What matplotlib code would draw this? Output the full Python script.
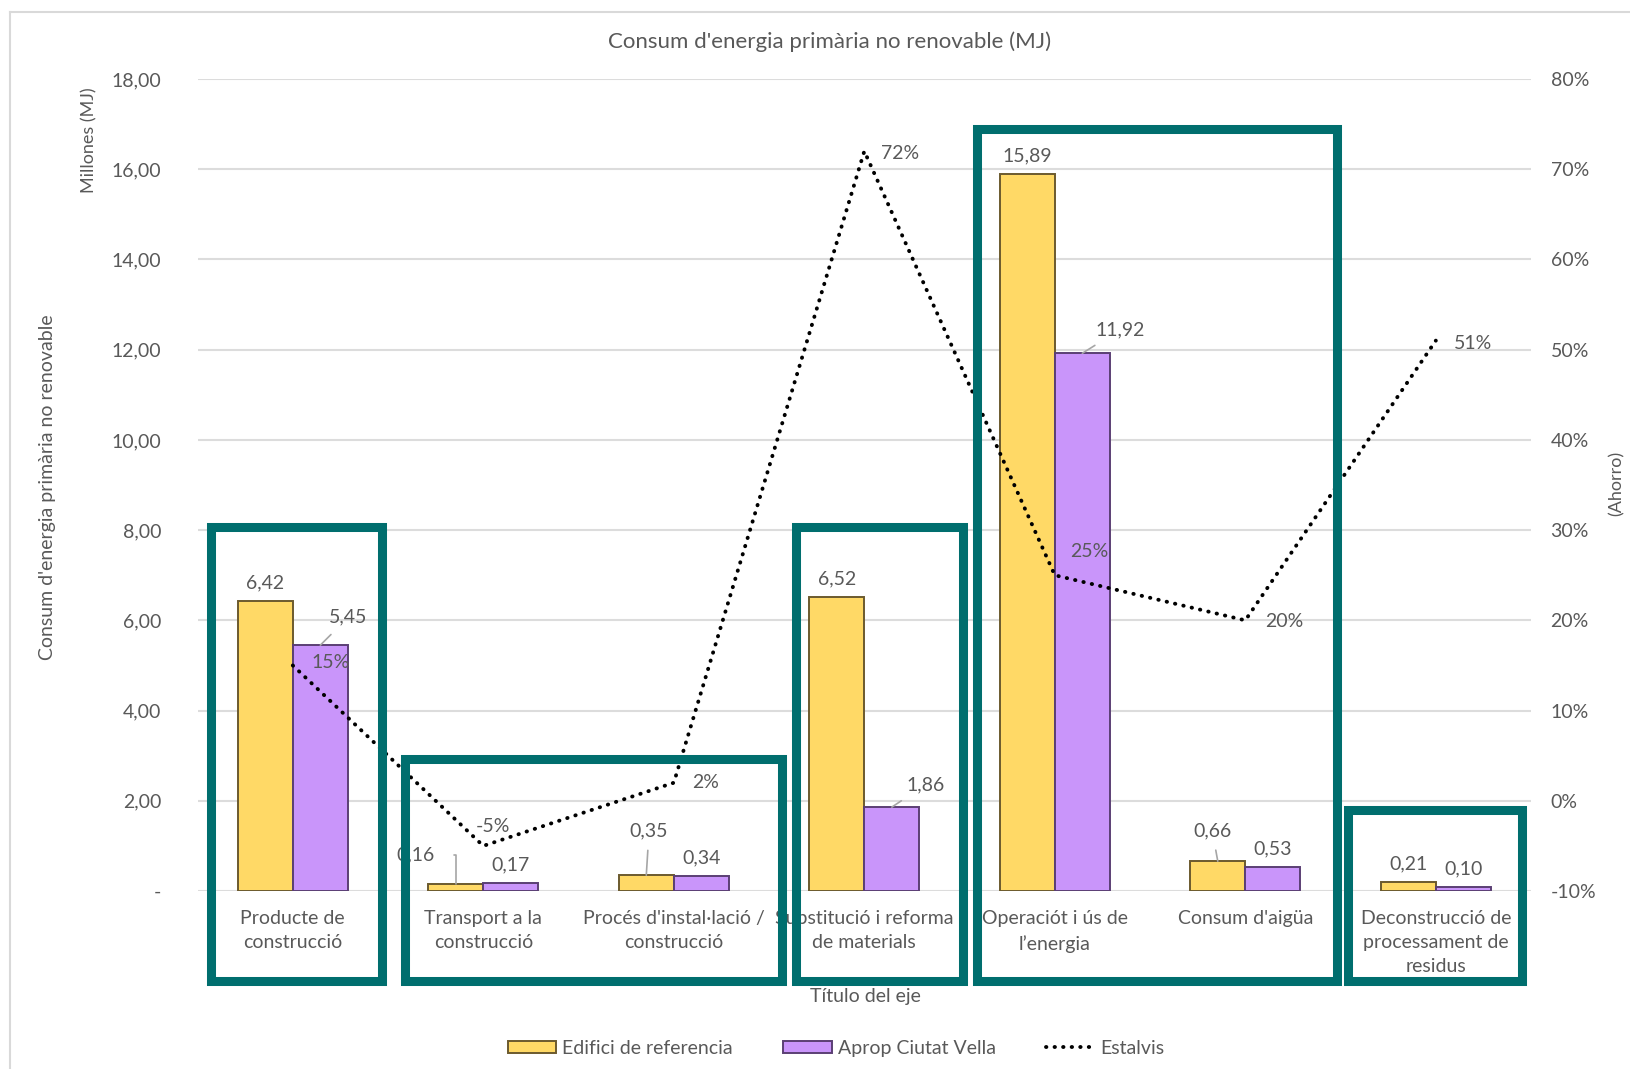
import matplotlib.pyplot as plt
import matplotlib.patches as mpatches
from matplotlib.lines import Line2D
import numpy as np

plt.rcParams['font.family'] = ['Lato', 'DejaVu Sans']

# categories and values (millions of MJ)
categories = [
    "Producte de\nconstrucció",
    "Transport a la\nconstrucció",
    "Procés d'instal·lació /\nconstrucció",
    "Substitució i reforma\nde materials",
    "Operaciót i ús de\nl’energia",
    "Consum d'aigüa",
    "Deconstrucció de\nprocessament de\nresidus",
]
referencia = [6.42, 0.16, 0.35, 6.52, 15.89, 0.66, 0.21]
aprop = [5.45, 0.17, 0.34, 1.86, 11.92, 0.53, 0.10]
estalvis = [0.15, -0.05, 0.02, 0.72, 0.25, 0.20, 0.51]

left_ticks = np.arange(0, 20, 2)
right_ticks = np.arange(-0.10, 0.81, 0.10)

# highlighted groups: (first cat, last cat, left pad, right pad, top value)
groups = [
    (0, 0, 0.43, 0.47, 8.07),
    (1, 2, 0.41, 0.57, 2.93),
    (3, 3, 0.36, 0.52, 8.07),
    (4, 5, 0.41, 0.48, 16.9),
    (6, 6, 0.46, 0.45, 1.8),
]

grey = '#595959'
yellow, yellow_edge = '#FFD966', '#6b5a2e'
purple, purple_edge = '#C995FA', '#5b3f74'
teal = '#006e6e'
dots = (0, (0.1, 2.1))

fig = plt.figure(figsize=(16.3, 10.69), dpi=100)
ax = fig.add_axes([0.1212, 0.1665, 0.8181, 0.7596])
ax2 = ax.twinx()

x = np.arange(len(categories))
w = 0.289
ax.bar(x - w / 2, referencia, w, color=yellow, edgecolor=yellow_edge,
       linewidth=1.4, label='Edifici de referencia', zorder=3)
ax.bar(x + w / 2, aprop, w, color=purple, edgecolor=purple_edge,
       linewidth=1.4, label='Aprop Ciutat Vella', zorder=3)

ax.set_xlim(-0.5, len(categories) - 0.5)
ax.set_ylim(0, 18)
ax.set_yticks(left_ticks)
ax.set_yticklabels(['-' if v == 0 else f"{v:.2f}".replace('.', ',') for v in left_ticks])
ax.set_xticks(x)
ax.set_xticklabels(categories, linespacing=1.5)
ax.grid(axis='y', color='#dcdcdc', linewidth=1.5, zorder=0)
ax.set_axisbelow(True)
ax.tick_params(axis='y', length=0, pad=26, labelsize=14, labelcolor=grey)
ax.tick_params(axis='x', length=0, pad=14, labelsize=14, labelcolor=grey)
for s in ax.spines.values():
    s.set_visible(False)

ax2.set_ylim(-0.10, 0.80)
ax2.set_yticks(right_ticks)
ax2.set_yticklabels([f"{round(v * 100):d}%" for v in right_ticks])
ax2.tick_params(axis='y', length=0, pad=14, labelsize=14, labelcolor=grey)
for s in ax2.spines.values():
    s.set_visible(False)

# savings line
ax2.plot(x, estalvis, color='black', linewidth=2.8, linestyle=dots,
         dash_capstyle='round', label='Estalvis', zorder=4)

# bar value labels, some moved away with leader lines
label_kw = dict(textcoords='offset points', ha='center', va='center',
                fontsize=14, color=grey, zorder=5)
leader = dict(arrowstyle='-', color='#a6a6a6', lw=1.2, shrinkA=6, shrinkB=0)
ref_offsets = {1: (-29, 21), 2: (2, 32), 5: (-4, 22)}
aprop_offsets = {0: (20, 20), 3: (24, 16), 4: (27, 17)}
for i, v in enumerate(referencia):
    txt = f"{v:.2f}".replace('.', ',')
    if i in ref_offsets:
        ap = dict(leader)
        if i == 1:
            ap.update(connectionstyle='angle,angleA=0,angleB=90,rad=0', shrinkA=12)
        ax.annotate(txt, (x[i] - w / 2, v), xytext=ref_offsets[i], arrowprops=ap, **label_kw)
    else:
        ax.annotate(txt, (x[i] - w / 2, v), xytext=(0, 13), **label_kw)
for i, v in enumerate(aprop):
    txt = f"{v:.2f}".replace('.', ',')
    if i in aprop_offsets:
        ax.annotate(txt, (x[i] + w / 2, v), xytext=aprop_offsets[i],
                    arrowprops=dict(leader), **label_kw)
    else:
        ax.annotate(txt, (x[i] + w / 2, v), xytext=(0, 13), **label_kw)

pct_offsets = [(27, 2), (7, 14), (23, 0), (26, -2), (25, 17), (28, -1), (27, -2)]
for i, v in enumerate(estalvis):
    ax2.annotate(f"{round(v * 100):d}%", (x[i], v), xytext=pct_offsets[i], **label_kw)

# teal highlight frames around category groups
for first, last, lpad, rpad, top in groups:
    rect = mpatches.Rectangle((first - lpad, -2.0), (last + rpad) - (first - lpad), top + 2.0,
                              transform=ax.transData, fill=False, edgecolor=teal,
                              linewidth=6.5, joinstyle='miter', clip_on=False, zorder=10)
    ax2.add_patch(rect)

fig.text(0.509, 0.961, "Consum d'energia primària no renovable (MJ)", ha='center',
         va='center', fontsize=16, color=grey)
fig.text(0.029, 0.544, "Consum d'energia primària no renovable", rotation=90,
         ha='center', va='center', fontsize=14, color=grey)
fig.text(0.0546, 0.869, "Millones (MJ)", rotation=90, ha='center', va='center',
         fontsize=13, color=grey)
fig.text(0.992, 0.548, "(Ahorro)", rotation=90, ha='center', va='center',
         fontsize=13, color=grey)
fig.text(0.531, 0.068, "Título del eje", ha='center', va='center', fontsize=14, color=grey)

handles = [mpatches.Patch(facecolor=yellow, edgecolor=yellow_edge, linewidth=1.4),
           mpatches.Patch(facecolor=purple, edgecolor=purple_edge, linewidth=1.4),
           Line2D([], [], color='black', linewidth=2.8, linestyle=dots,
                  dash_capstyle='round')]
fig.legend(handles, ['Edifici de referencia', 'Aprop Ciutat Vella', 'Estalvis'],
           loc='center', bbox_to_anchor=(0.513, 0.0196), ncol=3, frameon=False,
           fontsize=14, labelcolor=grey, handlelength=2.5, handleheight=0.6,
           handletextpad=0.3, columnspacing=2.6)

# chart area border
fig.add_artist(Line2D([10 / 1630, 1], [1 - 12 / 1069, 1 - 12 / 1069],
                      transform=fig.transFigure, color='#d9d9d9', linewidth=1.5))
fig.add_artist(Line2D([10 / 1630, 10 / 1630], [0, 1 - 12 / 1069],
                      transform=fig.transFigure, color='#d9d9d9', linewidth=1.5))

fig.savefig('out.png', dpi=100, facecolor='white')
